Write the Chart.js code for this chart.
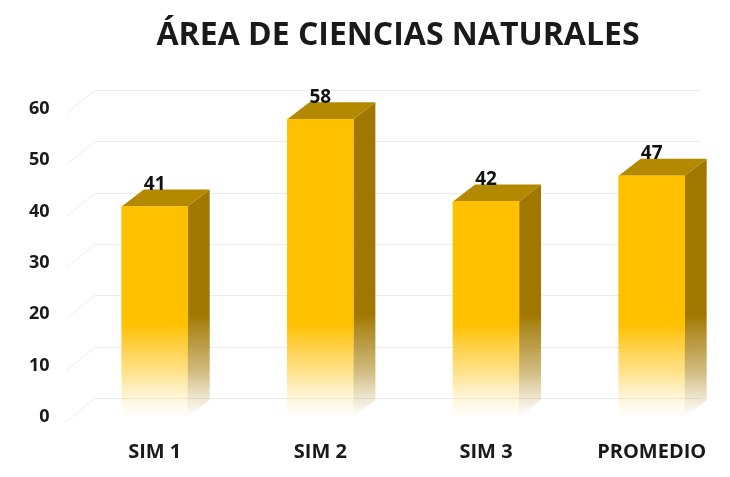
<!DOCTYPE html>
<html>
<head>
<meta charset="utf-8">
<script src="https://cdn.jsdelivr.net/npm/chart.js@4.4.1/dist/chart.umd.min.js"></script>
<style>
html,body{margin:0;padding:0;background:#fff;}
#wrap{width:730px;height:477px;position:relative;}
</style>
</head>
<body>
<div id="wrap"><canvas id="c" width="730" height="477"></canvas></div>
<script>
const titleText = 'ÁREA DE CIENCIAS NATURALES';
const categories = ['SIM 1', 'SIM 2', 'SIM 3', 'PROMEDIO'];
const values = [41, 58, 42, 47];
const yTicks = [0, 10, 20, 30, 40, 50, 60];

const DX = 22, DY = -17;

const bar3d = {
  id: 'bar3d',
  beforeDraw(chart) {
    const ctx = chart.ctx;
    ctx.save();
    ctx.fillStyle = '#1a1a1a';
    ctx.font = 'bold 32px "Open Sans"';
    ctx.textAlign = 'center';
    ctx.textBaseline = 'middle';
    ctx.fillText(titleText, 398, 36);
    ctx.restore();
  },
  beforeDatasetsDraw(chart) {
    const ctx = chart.ctx, ys = chart.scales.y, a = chart.chartArea;
    ctx.save();
    ctx.strokeStyle = '#ececec';
    ctx.lineWidth = 1;
    yTicks.forEach(t => {
      const y = Math.round(ys.getPixelForValue(t)) + 0.5;
      ctx.beginPath();
      ctx.moveTo(a.left, y + 4);
      ctx.lineTo(a.left + DX + 6, y + DY - 2);
      ctx.lineTo(a.right, y + DY - 2);
      ctx.stroke();
    });
    const meta = chart.getDatasetMeta(0);
    const y0 = ys.getPixelForValue(0);
    meta.data.forEach(bar => {
      const w = bar.width, l = bar.x - w / 2, r = bar.x + w / 2, top = bar.y, base = bar.base;
      const g = ctx.createLinearGradient(0, ys.getPixelForValue(20), 0, y0);
      g.addColorStop(0, 'rgba(160,120,0,1)');
      g.addColorStop(0.55, 'rgba(170,130,20,0.55)');
      g.addColorStop(1, 'rgba(190,150,60,0)');
      ctx.fillStyle = g;
      ctx.beginPath();
      ctx.moveTo(r, top);
      ctx.lineTo(r + DX, top + DY);
      ctx.lineTo(r + DX, base + DY);
      ctx.lineTo(r, base);
      ctx.closePath();
      ctx.fill();
      ctx.fillStyle = '#b38900';
      ctx.beginPath();
      ctx.moveTo(l, top);
      ctx.lineTo(l + DX, top + DY);
      ctx.lineTo(r + DX, top + DY);
      ctx.lineTo(r, top);
      ctx.closePath();
      ctx.fill();
    });
    ctx.restore();
  },
  afterDatasetsDraw(chart) {
    const ctx = chart.ctx;
    const meta = chart.getDatasetMeta(0);
    ctx.save();
    ctx.fillStyle = '#111';
    ctx.font = 'bold 19px "Open Sans"';
    ctx.textAlign = 'center';
    ctx.textBaseline = 'middle';
    meta.data.forEach((bar, i) => {
      ctx.fillText(String(values[i]), bar.x, bar.y - 22);
    });
    ctx.restore();
  }
};

new Chart(document.getElementById('c'), {
  type: 'bar',
  data: {
    datasets: [{
      data: categories.map((c, i) => ({x: i, y: values[i]})),
      barThickness: 66,
      backgroundColor(ctx) {
        const chart = ctx.chart, a = chart.chartArea;
        if (!a) return '#FFC000';
        const ys = chart.scales.y;
        const g = chart.ctx.createLinearGradient(0, ys.getPixelForValue(18), 0, ys.getPixelForValue(0) + 2);
        g.addColorStop(0, 'rgba(255,192,0,1)');
        g.addColorStop(0.5, 'rgba(255,205,60,0.6)');
        g.addColorStop(1, 'rgba(255,230,150,0)');
        return g;
      },
      borderWidth: 0
    }]
  },
  options: {
    responsive: false,
    animation: false,
    events: [],
    layout: {padding: {left: 12, right: 10, top: 109, bottom: -10}},
    plugins: {
      legend: {display: false},
      tooltip: {enabled: false},
      title: {display: false}
    },
    scales: {
      x: {
        type: 'linear',
        offset: false,
        min: -0.532,
        max: 3.297,
        grid: {display: false, drawTicks: false},
        border: {display: false},
        afterBuildTicks(scale) { scale.ticks = categories.map((c, i) => ({value: i})); },
        ticks: {
          padding: 23,
          color: '#1a1a1a',
          font: {family: 'Open Sans', size: 20, weight: 'bold'},
          callback(v) { return categories[v]; },
          maxRotation: 0,
          autoSkip: false
        }
      },
      y: {
        min: 0,
        max: 60,
        grid: {display: false, drawTicks: false},
        border: {display: false},
        afterBuildTicks(scale) { scale.ticks = yTicks.map(v => ({value: v})); },
        ticks: {
          padding: 17,
          color: '#1a1a1a',
          font: {family: 'Open Sans', size: 18, weight: 'bold'}
        }
      }
    }
  },
  plugins: [bar3d]
});
</script>
</body>
</html>
